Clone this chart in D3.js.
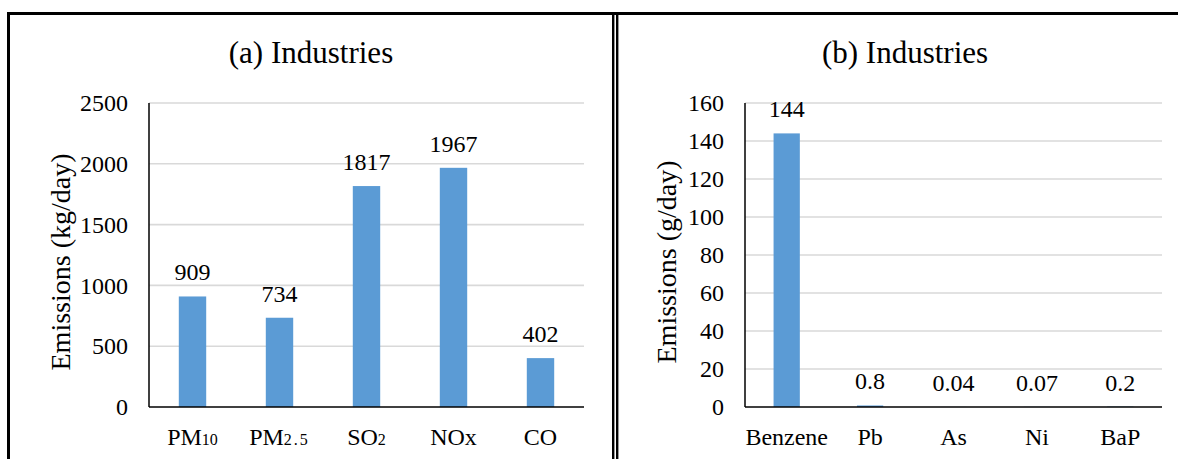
<!DOCTYPE html>
<html>
<head>
<meta charset="utf-8">
<script src="https://cdn.jsdelivr.net/npm/d3@7"></script>
<style>
  html, body { margin: 0; padding: 0; background: #fff; }
  svg { display: block; }
</style>
</head>
<body>
<svg id="chart" width="1178" height="459"></svg>
<script>
// Panel (a): main pollutants, kg/day
const categoriesA = ["PM10", "PM2.5", "SO2", "NOx", "CO"];
const valuesA = [909, 734, 1817, 1967, 402];
const ticksA = [0, 500, 1000, 1500, 2000, 2500];

// Panel (b): trace pollutants, g/day
const categoriesB = ["Benzene", "Pb", "As", "Ni", "BaP"];
const valuesB = [144, 0.8, 0.04, 0.07, 0.2];
const ticksB = [0, 20, 40, 60, 80, 100, 120, 140, 160];

const titles = ["(a) Industries", "(b) Industries"];
const yTitles = ["Emissions (kg/day)", "Emissions (g/day)"];

const BAR = "#5B9BD5";
const GRID = "#D9D9D9";
const SERIF = "'Liberation Serif', 'Times New Roman', Tinos, 'DejaVu Serif', serif";

const svg = d3.select("#chart");

// frame lines around the two panels
const frame = svg.append("g").attr("fill", "none").attr("stroke", "#000");
frame.append("line").attr("x1", 7).attr("x2", 1178).attr("y1", 13.5).attr("y2", 13.5).attr("stroke-width", 3);
frame.append("line").attr("x1", 8.5).attr("x2", 8.5).attr("y1", 12).attr("y2", 459).attr("stroke-width", 3);
frame.append("line").attr("x1", 613.2).attr("x2", 613.2).attr("y1", 12).attr("y2", 459).attr("stroke-width", 2.4);
frame.append("line").attr("x1", 617.2).attr("x2", 617.2).attr("y1", 12).attr("y2", 459).attr("stroke-width", 2.4);

function serif(sel, size) {
  return sel.style("font-family", SERIF).style("font-size", size + "px").style("fill", "#000");
}

function drawPanel(opts) {
  const { cats, vals, ticks, title, yTitle, left, right, titleX, yTitleX, subscripts } = opts;
  const top = 103, bottom = 407;
  const g = svg.append("g");

  const x = d3.scaleBand().domain(cats).range([left, right]).padding(0);
  const y = d3.scaleLinear().domain([0, ticks[ticks.length - 1]]).range([bottom, top]);
  const barW = x.bandwidth() * 0.315;

  // gridlines
  g.append("g").selectAll("line").data(ticks.slice(1)).join("line")
    .attr("x1", left).attr("x2", right)
    .attr("y1", d => y(d)).attr("y2", d => y(d))
    .attr("stroke", GRID).attr("stroke-width", 1.6);

  // y axis tick labels
  const yAxis = d3.axisLeft(y).tickValues(ticks).tickFormat(d => String(d)).tickSize(0).tickPadding(21);
  const ya = g.append("g").attr("transform", `translate(${left},0)`).call(yAxis);
  ya.select(".domain").remove();
  serif(ya.selectAll("text"), 24);

  // bars
  g.append("g").selectAll("rect").data(vals).join("rect")
    .attr("x", (d, i) => x(cats[i]) + (x.bandwidth() - barW) / 2)
    .attr("y", d => y(d))
    .attr("width", barW)
    .attr("height", d => bottom - y(d))
    .attr("fill", BAR);

  // value labels
  serif(g.append("g").selectAll("text").data(vals).join("text")
    .attr("x", (d, i) => x(cats[i]) + x.bandwidth() / 2)
    .attr("y", d => y(d) - 16)
    .attr("text-anchor", "middle")
    .text(d => String(d)), 24);

  // axis lines
  g.append("line").attr("x1", left).attr("x2", left).attr("y1", top).attr("y2", bottom)
    .attr("stroke", "#000").attr("stroke-width", 1.5);
  g.append("line").attr("x1", left).attr("x2", right).attr("y1", bottom).attr("y2", bottom)
    .attr("stroke", "#000").attr("stroke-width", 1.5);

  // category labels
  const cl = serif(g.append("g").selectAll("text").data(cats).join("text")
    .attr("x", d => x(d) + x.bandwidth() / 2)
    .attr("y", 445)
    .attr("text-anchor", "middle"), 24);
  cl.each(function (d) {
    const t = d3.select(this);
    const m = subscripts ? d.match(/^([A-Za-z]+?)([\d.]+)$/) : null;
    if (m) {
      t.append("tspan").text(m[1]);
      t.append("tspan").style("font-size", "16px")
        .style("letter-spacing", m[2].includes(".") ? "2px" : "0px").text(m[2]);
    } else {
      t.text(d);
    }
  });

  // chart title
  serif(g.append("text").attr("x", titleX).attr("y", 63)
    .attr("text-anchor", "middle").text(title), 31);

  // y axis title
  serif(g.append("text")
    .attr("transform", `translate(${yTitleX},${(top + bottom) / 2 + 7}) rotate(-90)`)
    .attr("text-anchor", "middle").text(yTitle), 28);
}

drawPanel({ cats: categoriesA, vals: valuesA, ticks: ticksA, title: titles[0], yTitle: yTitles[0],
  left: 149, right: 584, titleX: 311, yTitleX: 70, subscripts: true });
drawPanel({ cats: categoriesB, vals: valuesB, ticks: ticksB, title: titles[1], yTitle: yTitles[1],
  left: 745, right: 1162, titleX: 905, yTitleX: 676, subscripts: false });
</script>
</body>
</html>
